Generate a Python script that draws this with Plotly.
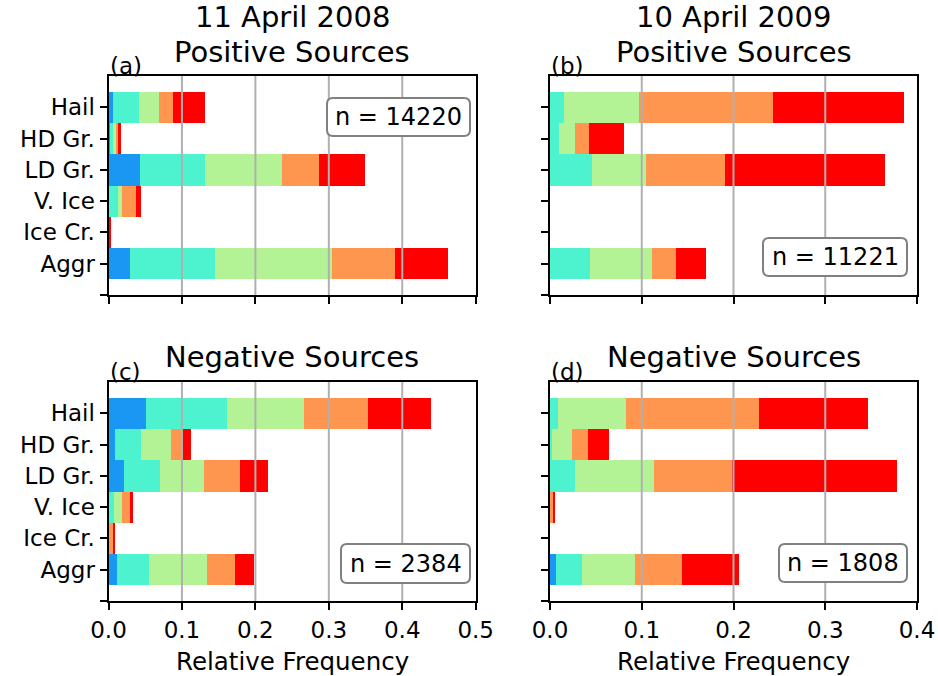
import plotly.graph_objects as go

W, H = 938, 676

CATEGORIES = ["Hail", "HD Gr.", "LD Gr.", "V. Ice", "Ice Cr.", "Aggr"]
SERIES_COLORS = ["#1A96F3", "#4DF3CE", "#B3F396", "#FF964F", "#FF0000"]

# (a) 11 April 2008, positive sources
A_S1 = [0.005, 0.002, 0.042, 0.000, 0.000, 0.029]
A_S2 = [0.036, 0.003, 0.089, 0.012, 0.000, 0.116]
A_S3 = [0.027, 0.004, 0.105, 0.006, 0.000, 0.158]
A_S4 = [0.019, 0.003, 0.050, 0.019, 0.000, 0.087]
A_S5 = [0.044, 0.004, 0.062, 0.006, 0.002, 0.072]

# (b) 10 April 2009, positive sources
B_S1 = [0.000, 0.000, 0.000, 0.000, 0.000, 0.000]
B_S2 = [0.015, 0.010, 0.046, 0.000, 0.000, 0.044]
B_S3 = [0.082, 0.0175, 0.059, 0.000, 0.000, 0.067]
B_S4 = [0.146, 0.015, 0.086, 0.000, 0.000, 0.026]
B_S5 = [0.143, 0.038, 0.174, 0.000, 0.000, 0.033]

# (c) 11 April 2008, negative sources
C_S1 = [0.051, 0.008, 0.020, 0.000, 0.000, 0.011]
C_S2 = [0.109, 0.035, 0.049, 0.007, 0.000, 0.044]
C_S3 = [0.106, 0.041, 0.060, 0.011, 0.000, 0.079]
C_S4 = [0.087, 0.017, 0.049, 0.011, 0.005, 0.037]
C_S5 = [0.085, 0.011, 0.038, 0.004, 0.003, 0.027]

# (d) 10 April 2009, negative sources
D_S1 = [0.000, 0.000, 0.000, 0.000, 0.000, 0.0065]
D_S2 = [0.009, 0.002, 0.027, 0.000, 0.000, 0.028]
D_S3 = [0.074, 0.022, 0.086, 0.000, 0.000, 0.058]
D_S4 = [0.145, 0.0175, 0.085, 0.0035, 0.000, 0.051]
D_S5 = [0.119, 0.023, 0.180, 0.002, 0.000, 0.062]

N_LABELS = ["n = 14220", "n = 11221", "n = 2384", "n = 1808"]
X_MAX = [0.5, 0.4, 0.5, 0.4]
PANEL_LABELS = ["(a)", "(b)", "(c)", "(d)"]

FONT = "DejaVu Sans"
TICK_SIZE = 23

panels = [
    dict(series=[A_S1, A_S2, A_S3, A_S4, A_S5], px=(108.5, 475.7), py=(76, 295),
         ylab=True, xlab=False, box=(327, 98, 470, 136)),
    dict(series=[B_S1, B_S2, B_S3, B_S4, B_S5], px=(550, 917), py=(76, 295),
         ylab=False, xlab=False, box=(763, 238, 907, 276)),
    dict(series=[C_S1, C_S2, C_S3, C_S4, C_S5], px=(108.5, 475.7), py=(382, 601),
         ylab=True, xlab=True, box=(341, 544, 470, 583)),
    dict(series=[D_S1, D_S2, D_S3, D_S4, D_S5], px=(550, 917), py=(382, 601),
         ylab=False, xlab=True, box=(779, 544, 907, 582)),
]


def fx(x):
    return x / W


def fy(y):
    return 1 - y / H


def rounded_rect(x0, y0, x1, y1, r=6):
    p = lambda x, y: f"{fx(x):.5f},{fy(y):.5f}"
    return (
        f"M {p(x0 + r, y0)} L {p(x1 - r, y0)} Q {p(x1, y0)} {p(x1, y0 + r)} "
        f"L {p(x1, y1 - r)} Q {p(x1, y1)} {p(x1 - r, y1)} "
        f"L {p(x0 + r, y1)} Q {p(x0, y1)} {p(x0, y1 - r)} "
        f"L {p(x0, y0 + r)} Q {p(x0, y0)} {p(x0 + r, y0)} Z"
    )


fig = go.Figure()
layout = dict(
    width=W, height=H, margin=dict(l=0, r=0, t=0, b=0, autoexpand=False),
    paper_bgcolor="white", plot_bgcolor="white",
    barmode="stack", bargap=0, showlegend=False,
    font=dict(family=FONT, color="black", size=TICK_SIZE),
)
annotations = []
shapes = []
ypos = list(range(len(CATEGORIES)))

for i, pn in enumerate(panels):
    suf = "" if i == 0 else str(i + 1)
    xa, ya = "x" + suf, "y" + suf
    for s, vals in enumerate(pn["series"]):
        fig.add_trace(go.Bar(
            x=vals, y=ypos, orientation="h", width=1.0,
            marker=dict(color=SERIES_COLORS[s], line=dict(width=0)),
            xaxis=xa, yaxis=ya, hoverinfo="x+y",
        ))
    xmax = X_MAX[i]
    nt = int(round(xmax / 0.1))
    xt = [round(k * 0.1, 1) for k in range(nt + 1)]
    layout["xaxis" + suf] = dict(
        domain=[fx(pn["px"][0]), fx(pn["px"][1])], anchor=ya, range=[0, xmax],
        tickvals=xt, ticktext=[f"{v:.1f}" for v in xt], showticklabels=pn["xlab"],
        ticks="outside", ticklen=7, tickwidth=2, tickcolor="black",
        showline=True, linewidth=2, linecolor="black", mirror=True,
        showgrid=False, zeroline=False, layer="above traces", automargin=False,
        tickfont=dict(size=TICK_SIZE, family=FONT),
    )
    layout["yaxis" + suf] = dict(
        domain=[fy(pn["py"][1]), fy(pn["py"][0])], anchor=xa, range=[6, -1],
        tickvals=list(range(len(CATEGORIES) + 1)), ticktext=CATEGORIES + [""],
        showticklabels=pn["ylab"],
        ticks="outside", ticklen=7, tickwidth=2, tickcolor="black",
        showline=True, linewidth=2, linecolor="black", mirror=True,
        showgrid=False, zeroline=False, layer="above traces", automargin=False,
        tickfont=dict(size=TICK_SIZE, family=FONT),
    )
    for v in xt[1:-1]:
        shapes.append(dict(type="line", xref=xa, yref=ya + " domain", x0=v, x1=v, y0=0, y1=1,
                           line=dict(color="#b0b0b0", width=2), layer="above"))
    bx0, by0, bx1, by1 = pn["box"]
    shapes.append(dict(type="path", xref="paper", yref="paper", path=rounded_rect(bx0, by0, bx1, by1),
                       line=dict(color="#808080", width=2), fillcolor="white", layer="above"))
    annotations.append(dict(text=N_LABELS[i], xref="paper", yref="paper",
                            x=fx((bx0 + bx1) / 2), y=fy((by0 + by1) / 2),
                            xanchor="center", yanchor="middle", showarrow=False,
                            font=dict(size=24, family=FONT)))
    cx = (pn["px"][0] + pn["px"][1]) / 2
    annotations.append(dict(text=PANEL_LABELS[i], xref="paper", yref="paper",
                            x=fx(pn["px"][0] - 1), y=fy(pn["py"][0] - 10),
                            xanchor="left", yanchor="middle", showarrow=False,
                            font=dict(size=23, family=FONT)))
    if not pn["xlab"]:
        annotations.append(dict(text="Relative Frequency", xref="paper", yref="paper",
                                x=fx(cx), y=fy(661), xanchor="center", yanchor="middle",
                                showarrow=False, font=dict(size=24.5, family=FONT)))

titles = [
    dict(text="11 April 2008", x=fx(292), y=fy(17)),
    dict(text="Positive Sources", x=fx(292), y=fy(52)),
    dict(text="10 April 2009", x=fx(733.5), y=fy(17)),
    dict(text="Positive Sources", x=fx(733.5), y=fy(52)),
    dict(text="Negative Sources", x=fx(292), y=fy(357)),
    dict(text="Negative Sources", x=fx(733.5), y=fy(357)),
]
for a in titles:
    a.update(xref="paper", yref="paper", xanchor="center", yanchor="middle",
             showarrow=False, font=dict(size=29, family=FONT))
annotations += titles

layout["annotations"] = annotations
layout["shapes"] = shapes
fig.update_layout(**layout)
fig.write_html("out.html")
